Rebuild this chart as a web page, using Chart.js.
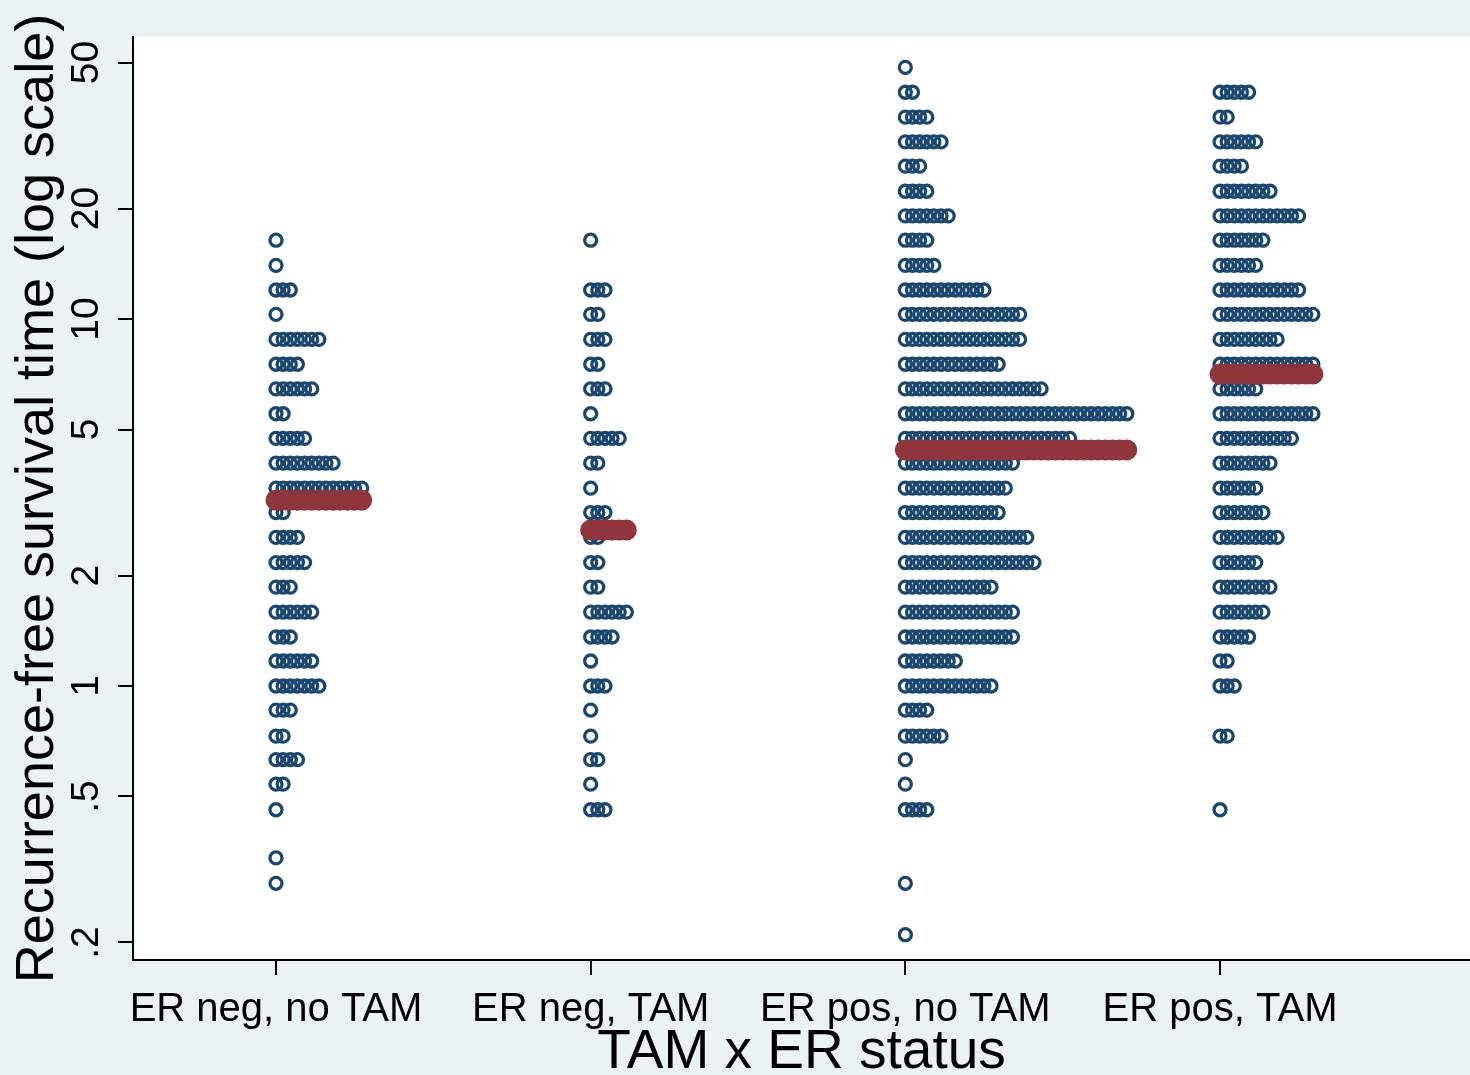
<!DOCTYPE html>
<html>
<head>
<meta charset="utf-8">
<script src="https://cdn.jsdelivr.net/npm/chart.js@4/dist/chart.umd.min.js"></script>
<style>
  html, body { margin: 0; padding: 0; background: #eaf2f3; }
  #wrap { width: 1470px; height: 1075px; }
</style>
</head>
<body>
<div id="wrap"><canvas id="chart" width="1470" height="1075"></canvas></div>
<script>
// categories on the x axis
const groups = ['ER neg, no TAM', 'ER neg, TAM', 'ER pos, no TAM', 'ER pos, TAM'];

// binned survival times (years), one row of dots per bin
const levels = [0.21, 0.25, 0.29, 0.34, 0.39, 0.46, 0.54, 0.63, 0.73, 0.86,
                1.0, 1.17, 1.36, 1.59, 1.86, 2.17, 2.54, 2.97, 3.46, 4.05,
                4.73, 5.52, 6.45, 7.53, 8.8, 10.3, 12.0, 14.0, 16.4, 19.1,
                22.3, 26.1, 30.4, 35.5, 41.5, 48.5];

// number of patients in each bin, per group
const countsNegNoTam = [0,0,1,1,0,1,2,4,2,3, 7,6,3,6,3,5,4,2,13,9, 5,2,6,4,7,1,3,1,1,0, 0,0,0,0,0,0];
const countsNegTam   = [0,0,0,0,0,3,1,2,1,1, 3,1,4,6,2,2,2,3,1,2, 5,1,3,2,3,2,3,0,1,0, 0,0,0,0,0,0];
const countsPosNoTam = [1,0,1,0,0,4,1,1,6,4, 13,8,16,16,13,19,18,14,15,16, 24,32,20,14,17,17,12,5,4,7, 4,3,6,4,2,1];
const countsPosTam   = [0,0,0,0,0,1,0,0,2,0, 3,2,5,7,8,6,9,7,6,8, 11,14,6,14,9,14,12,6,7,12, 8,4,6,2,5,0];

const medians = [3.21, 2.66, 4.40, 7.08];

const yTicks = [0.2, 0.5, 1, 2, 5, 10, 20, 50];
const yTickLabels = ['.2', '.5', '1', '2', '5', '10', '20', '50'];

const allCounts = [countsNegNoTam, countsNegTam, countsPosNoTam, countsPosTam];
const step = 0.0227; // horizontal gap between stacked dots, in category units

const dotPoints = [];
const medianPoints = [];
allCounts.forEach((counts, g) => {
  counts.forEach((n, i) => {
    for (let j = 0; j < n; j++) dotPoints.push({ x: g + 1 + j * step, y: levels[i] });
  });
  const widest = Math.max(...counts);
  for (let j = 0; j < widest; j++) medianPoints.push({ x: g + 1 + j * step, y: medians[g] });
});

const FONT = '"Liberation Sans", Arial, Helvetica, sans-serif';

const bgPlugin = {
  id: 'bg',
  beforeDraw(chart) {
    const { ctx, chartArea: a } = chart;
    ctx.save();
    ctx.fillStyle = '#eaf2f3';
    ctx.fillRect(0, 0, chart.width, chart.height);
    ctx.fillStyle = '#ffffff';
    ctx.fillRect(a.left, a.top, a.right - a.left, a.bottom - a.top);
    ctx.restore();
  },
  afterDraw(chart) {
    // rotated y tick labels, Stata style
    const { ctx } = chart;
    const y = chart.scales.y;
    ctx.save();
    ctx.fillStyle = '#000';
    ctx.font = '39px ' + FONT;
    ctx.textAlign = 'center';
    ctx.textBaseline = 'alphabetic';
    yTicks.forEach((v, i) => {
      ctx.save();
      ctx.translate(98, y.getPixelForValue(v));
      ctx.rotate(-Math.PI / 2);
      ctx.fillText(yTickLabels[i], 0, 0);
      ctx.restore();
    });
    ctx.restore();
  }
};

new Chart(document.getElementById('chart'), {
  type: 'scatter',
  data: {
    datasets: [
      {
        label: 'median',
        data: medianPoints,
        pointRadius: 10.5,
        pointBorderWidth: 0,
        pointBackgroundColor: '#90353b',
        pointBorderColor: '#90353b'
      },
      {
        label: 'RFS',
        data: dotPoints,
        pointRadius: 6,
        pointBorderWidth: 3.3,
        pointBackgroundColor: 'rgba(0,0,0,0)',
        pointBorderColor: '#1a476f'
      }
    ]
  },
  options: {
    responsive: false,
    animation: false,
    layout: { autoPadding: false, padding: { top: 37, right: 0, left: 0, bottom: 0 } },
    plugins: { legend: { display: false }, tooltip: { enabled: false } },
    scales: {
      x: {
        type: 'linear',
        min: 0.5456,
        max: 4.7944,
        afterFit: s => { s.height = 115; },
        afterBuildTicks: s => { s.ticks = groups.map((_, i) => ({ value: i + 1 })); },
        grid: { drawOnChartArea: false, drawTicks: true, tickLength: 15, color: '#000', lineWidth: 2 },
        border: { display: true, color: '#000', width: 2 },
        ticks: {
          autoSkip: false,
          maxRotation: 0,
          padding: 11,
          color: '#000',
          font: { family: FONT, size: 40 },
          callback: v => groups[v - 1]
        },
        title: {
          display: true,
          text: 'TAM x ER status',
          color: '#000',
          font: { family: FONT, size: 55, lineHeight: 0.8 },
          padding: { top: 0, bottom: 0 }
        }
      },
      y: {
        type: 'logarithmic',
        min: 0.1792,
        max: 58.7,
        afterFit: s => { s.width = 133; },
        afterBuildTicks: s => { s.ticks = yTicks.map(v => ({ value: v })); },
        grid: { drawOnChartArea: false, drawTicks: true, tickLength: 15, color: '#000', lineWidth: 2 },
        border: { display: true, color: '#000', width: 2 },
        ticks: { display: false },
        title: {
          display: true,
          text: 'Recurrence-free survival time (log scale)',
          color: '#000',
          font: { family: FONT, size: 54 },
          padding: { top: 6, bottom: 0 }
        }
      }
    }
  },
  plugins: [bgPlugin]
});
</script>
</body>
</html>
